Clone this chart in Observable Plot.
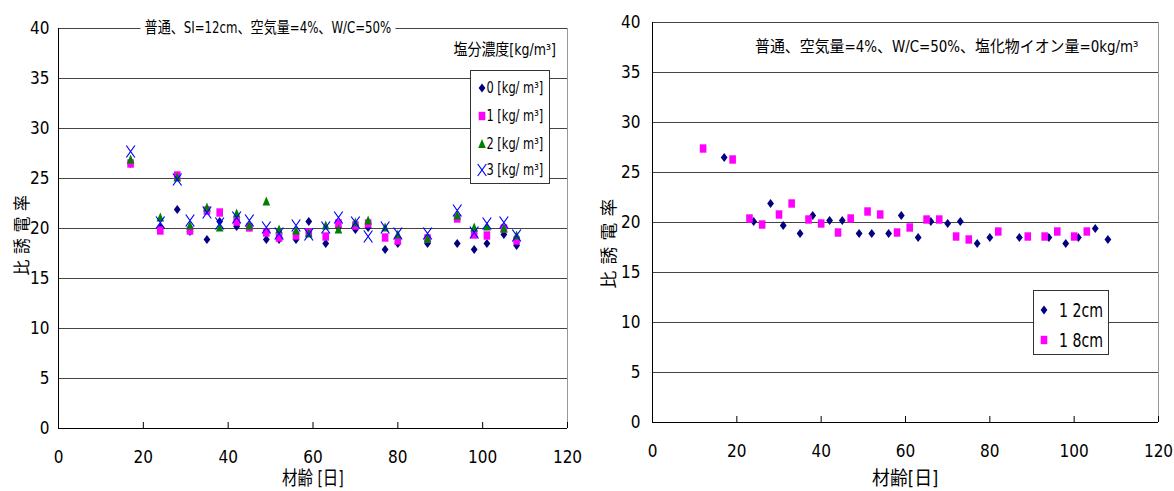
<!DOCTYPE html>
<html><head><meta charset="utf-8">
<script src="https://cdn.jsdelivr.net/npm/d3@7"></script>
<script src="https://cdn.jsdelivr.net/npm/@observablehq/plot@0.6"></script>
<style>
body{margin:0;background:#fff;}
#wrap{position:relative;width:1174px;height:491px;overflow:hidden;background:#fff;
  font-family:"Liberation Sans Narrow","DejaVu Sans Condensed","Noto Sans CJK JP",sans-serif;color:#000;}
#wrap svg{position:absolute;top:0;}
.abs{position:absolute;white-space:nowrap;line-height:1;}
.box{position:absolute;background:#fff;border:1px solid #333;box-sizing:border-box;}
</style></head><body><div id="wrap"></div>
<script>
// ---------- data ----------
const ages = [17,24,28,31,35,38,42,45,49,52,56,59,63,66,70,73,77,80,87,94,98,101,105,108];
const salt0 = [26.5,20.1,21.9,19.7,18.9,20.7,20.2,20.2,18.9,18.9,18.9,20.7,18.5,20.1,19.9,20.1,17.9,18.5,18.5,18.5,17.9,18.5,19.4,18.3];
const salt1 = [26.5,19.8,25.3,19.8,21.8,21.6,20.7,20.1,19.6,19.1,19.3,19.6,19.2,20.5,20.3,20.5,19.1,18.8,19.0,21.0,19.4,19.3,20.0,18.8];
const salt2 = [26.9,21.1,25.1,20.3,22.1,20.1,21.5,20.3,22.7,19.9,19.8,19.5,20.3,19.9,20.6,20.8,20.1,19.4,19.0,21.3,20.1,20.2,20.0,19.3];
const salt3 = [27.7,20.6,24.9,20.8,21.6,20.5,21.1,20.8,20.1,19.5,20.3,19.4,20.1,21.1,20.6,19.2,20.1,19.5,19.5,21.8,19.6,20.5,20.6,19.3];
const saltLabels = ["0 [kg/ m³]","1 [kg/ m³]","2 [kg/ m³]","3 [kg/ m³]"];

const ages12 = [17,24,28,31,35,38,42,45,49,52,56,59,63,66,70,73,77,80,87,94,98,101,105,108];
const sl12 = [26.5,20.1,21.9,19.7,18.9,20.7,20.2,20.2,18.9,18.9,18.9,20.7,18.5,20.1,19.9,20.1,17.9,18.5,18.5,18.5,17.9,18.5,19.4,18.3];
const ages18 = [12,19,23,26,30,33,37,40,44,47,51,54,58,61,65,68,72,75,82,89,93,96,100,103];
const sl18 = [27.4,26.3,20.4,19.8,20.8,21.9,20.3,19.9,19.0,20.4,21.1,20.8,19.0,19.5,20.3,20.3,18.6,18.3,19.1,18.6,18.6,19.1,18.6,19.1];
const slLabels = ["1 2cm","1 8cm"];

const xTicks = [0,20,40,60,80,100,120];
const yTicks = [0,5,10,15,20,25,30,35,40];

const leftTitle = "普通、SI=12cm、空気量=4%、W/C=50%";
const rightTitle = "普通、空気量=4%、W/C=50%、塩化物イオン量=0kg/m³";
const legendTitle = "塩分濃度[kg/m³]";
const yLabel = "比誘電率";
const xLabelL = "材齢 [日]";
const xLabelR = "材齢[日]";

// ---------- symbols ----------
const diamondSym = {draw(c){c.moveTo(0,-4.6);c.lineTo(3.4,0);c.lineTo(0,4.6);c.lineTo(-3.4,0);c.closePath();}};
const squareSym = {draw(c){c.moveTo(-3.3,-4.2);c.lineTo(3.3,-4.2);c.lineTo(3.3,4.2);c.lineTo(-3.3,4.2);c.closePath();}};
const triSym = {draw(c){c.moveTo(0,-5);c.lineTo(3.8,4);c.lineTo(-3.8,4);c.closePath();}};
const timesSym = {draw(c){c.moveTo(-4.3,-6);c.lineTo(4.3,6);c.moveTo(4.3,-6);c.lineTo(-4.3,6);}};
const C0="#000080", C1="#FF00FF", C2="#008000", C3="#0000FF";

const FONT = '"Liberation Sans Narrow","DejaVu Sans Condensed","Noto Sans CJK JP",sans-serif';
const wrap = document.getElementById("wrap");

const tbl = (xs, ys) => xs.map((a,i)=>({age:a, v:ys[i]}));

function frameMarks(){
  return [
    Plot.ruleY(yTicks.filter(d=>d>0), {stroke:"#444", strokeWidth:1.2}),
    Plot.ruleX([120], {stroke:"#999"}),
    Plot.ruleX([0], {stroke:"#000"}),
    Plot.ruleY([0], {stroke:"#000"}),
  ];
}
function symDot(data, sym, color, stroked){
  return Plot.dot(data, stroked
    ? {x:"age", y:"v", symbol:sym, fill:"none", stroke:color, strokeWidth:1.2}
    : {x:"age", y:"v", symbol:sym, fill:color, stroke:"none"});
}

const left = Plot.plot({
  width:587, height:491, marginLeft:58, marginRight:20, marginTop:28, marginBottom:63,
  x:{domain:[0,120]}, y:{domain:[0,40]},
  style:{fontFamily:FONT, fontSize:"17px", color:"#000", background:"transparent", overflow:"visible"},
  marks:[
    ...frameMarks(),
    Plot.axisY({ticks:yTicks, tickSize:0, tickPadding:9, label:null, tickFormat:d=>String(d)}),
    Plot.axisX({ticks:xTicks, tickSize:-6, tickPadding:28, label:null, tickFormat:d=>String(d)}),
    symDot(tbl(ages,salt0), diamondSym, C0),
    symDot(tbl(ages,salt1), squareSym, C1),
    symDot(tbl(ages,salt2), triSym, C2),
    symDot(tbl(ages,salt3), timesSym, C3, true),
  ]
});
left.style.left = "0px";
wrap.appendChild(left);

const right = Plot.plot({
  width:587, height:491, marginLeft:65, marginRight:16, marginTop:22, marginBottom:69,
  x:{domain:[0,120]}, y:{domain:[0,40]},
  style:{fontFamily:FONT, fontSize:"17px", color:"#000", background:"transparent", overflow:"visible"},
  marks:[
    ...frameMarks(),
    Plot.axisY({ticks:yTicks, tickSize:0, tickPadding:12, label:null, tickFormat:d=>String(d)}),
    Plot.axisX({ticks:xTicks, tickSize:-6, tickPadding:28, label:null, tickFormat:d=>String(d)}),
    symDot(tbl(ages12,sl12), diamondSym, C0),
    symDot(tbl(ages18,sl18), squareSym, C1),
  ]
});
right.style.left = "587px";
wrap.appendChild(right);

// ---------- annotations ----------
function addText(str, o){
  const el = document.createElement("div");
  el.className = "abs";
  el.textContent = str;
  el.style.fontSize = o.size + "px";
  if (o.bg) el.style.background = o.bg;
  if (o.pad) el.style.padding = o.pad;
  if (o.ls) el.style.letterSpacing = o.ls + "px";
  wrap.appendChild(el);
  const w = el.offsetWidth, h = el.offsetHeight;
  const s = o.width ? o.width / w : 1;
  el.style.left = (o.cx - w/2) + "px";
  el.style.top = (o.cy - h/2) + "px";
  el.style.transformOrigin = "50% 50%";
  el.style.transform = (o.rotate ? "rotate(-90deg) " : "") + "scaleX(" + s + ")";
  return el;
}
function addBox(x, y, w, h){
  const b = document.createElement("div");
  b.className = "box";
  Object.assign(b.style, {left:x+"px", top:y+"px", width:w+"px", height:h+"px"});
  wrap.appendChild(b);
}
function swatch(sym, color, stroked, cx, cy){
  const s = d3.create("svg").attr("width",16).attr("height",16)
    .style("left",(cx-8)+"px").style("top",(cy-8)+"px");
  s.append("path").attr("transform","translate(8,8)")
    .attr("d", d3.symbol(sym, 64)())
    .attr("fill", stroked ? "none" : color)
    .attr("stroke", stroked ? color : "none").attr("stroke-width",1.2);
  wrap.appendChild(s.node());
}

addText(leftTitle, {cx:267.5, cy:28, size:16, width:255, bg:"#fff", pad:"0 5px"});
addText(rightTitle, {cx:946.5, cy:47, size:16, width:383});
addText(legendTitle, {cx:504, cy:50, size:16, width:102});
addText(yLabel, {cx:22, cy:232, size:17, ls:6, width:86, rotate:true});
addText(yLabel, {cx:609, cy:240, size:17, ls:6, width:96, rotate:true});
addText(xLabelL, {cx:313, cy:478, size:19, width:62});
addText(xLabelR, {cx:905, cy:478, size:19, width:66});

// left legend
addBox(470, 70, 80, 114);
const lgY = [88, 116, 144, 170];
const lgSym = [[diamondSym,C0,false],[squareSym,C1,false],[triSym,C2,false],[timesSym,C3,true]];
saltLabels.forEach((t,i)=>{
  swatch(lgSym[i][0], lgSym[i][1], lgSym[i][2], 482, lgY[i]);
  const el = addText(t, {cx:515, cy:lgY[i], size:16, width:57});
});

// right legend
addBox(1033, 290, 76, 65);
const rgY = [310, 340];
const rgSym = [[diamondSym,C0],[squareSym,C1]];
slLabels.forEach((t,i)=>{
  swatch(rgSym[i][0], rgSym[i][1], false, 1044, rgY[i]);
  addText(t, {cx:1081, cy:rgY[i], size:20, width:44});
});
</script></body></html>
